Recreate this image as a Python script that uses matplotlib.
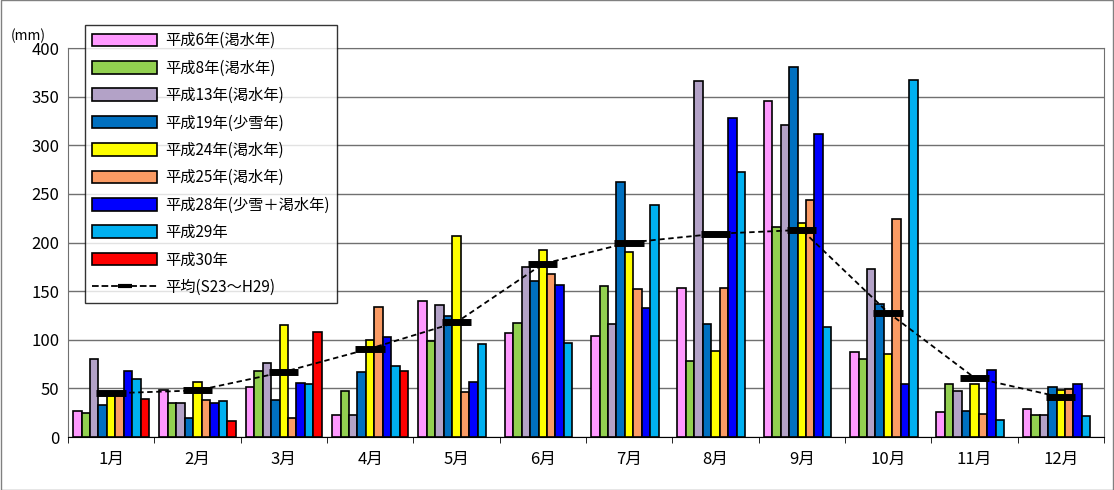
import numpy as np
import matplotlib.pyplot as plt
from matplotlib.lines import Line2D

plt.rcParams['font.family'] = ['Noto Sans CJK JP', 'DejaVu Sans']

months = [f"{m}月" for m in range(1, 13)]
nan = np.nan
h06 = [27, 48, 52, 23, 140, 107, 104, 153, 346, 87, 26, 29]
h08 = [25, 35, 68, 47, 99, 117, 155, 78, 216, 80, 55, 23]
h13 = [80, 35, 76, 23, 136, 175, 116, 366, 321, 173, 47, 23]
h19 = [33, 20, 38, 67, 124, 160, 262, 116, 380, 137, 27, 52]
h24 = [45, 57, 115, 100, 207, 192, 190, 88, 220, 85, 55, 48]
h25 = [45, 38, 20, 134, 46, 168, 152, 153, 244, 224, 24, 49]
h28 = [68, 35, 56, 103, 57, 156, 133, 328, 312, 55, 69, 55]
h29 = [60, 37, 55, 73, 96, 97, 239, 273, 113, 367, 18, 22]
h30 = [39, 17, 108, 68, nan, nan, nan, nan, nan, nan, nan, nan]
avg = [45, 48, 67, 91, 118, 178, 200, 209, 213, 128, 61, 41]

series = [
    ("平成6年(渇水年)", h06, "#ff99ff"),
    ("平成8年(渇水年)", h08, "#92d050"),
    ("平成13年(渇水年)", h13, "#b3a2c7"),
    ("平成19年(少雪年)", h19, "#0070c0"),
    ("平成24年(渇水年)", h24, "#ffff00"),
    ("平成25年(渇水年)", h25, "#fa9b64"),
    ("平成28年(少雪＋渇水年)", h28, "#0000ff"),
    ("平成29年", h29, "#00b0f0"),
    ("平成30年", h30, "#ff0000"),
]

fig = plt.figure(figsize=(11.14, 4.90), dpi=100)
ax = fig.add_axes([0.061, 0.108, 0.930, 0.794])
x = np.arange(12)
w = 0.098
for i, (lab, vals, col) in enumerate(series):
    ax.bar(x + (i - 4) * w, vals, width=w, color=col, edgecolor="black",
           linewidth=1.2, label=lab, zorder=3)

ax.plot(x, avg, color="black", linestyle=(0, (3, 2)), linewidth=1.3, zorder=4)
ax.errorbar(x, avg, xerr=0.17, fmt="none", ecolor="black", elinewidth=5,
            capsize=0, zorder=5)

ax.set_xlim(-0.5, 11.5)
ax.set_ylim(0, 400)
ax.set_yticks(range(0, 401, 50))
ax.set_xticks(x)
ax.set_xticklabels(months)
ax.set_xticks(np.arange(-0.5, 12, 1), minor=True)
ax.tick_params(axis="x", which="major", length=0, pad=10)
ax.tick_params(axis="x", which="minor", length=4)
ax.tick_params(axis="y", length=0, pad=6)
ax.tick_params(labelsize=12)
ax.yaxis.grid(True, color="#707070", linewidth=1, zorder=0)
for s in ax.spines.values():
    s.set_color("#707070")
ax.spines["bottom"].set_color("black")
ax.text(-0.055, 1.02, "(mm)", transform=ax.transAxes, fontsize=10, ha="left")

handles, labels = ax.get_legend_handles_labels()
handles.append(Line2D([], [], color="black", linestyle="--", linewidth=1.3,
                      marker="_", markersize=10, markeredgewidth=3))
labels.append("平均(S23～H29)")
leg = ax.legend(handles, labels, loc="upper left", bbox_to_anchor=(0.009, 1.078),
                fontsize=11, frameon=True, fancybox=False, edgecolor="black",
                handlelength=4.3, handleheight=0.9, labelspacing=0.68,
                borderpad=0.45, handletextpad=0.5)
leg.get_frame().set_linewidth(1)
leg.set_zorder(10)

fig.patches.append(plt.Rectangle((0.001, 0.001), 0.998, 0.998, fill=False,
                                 edgecolor="#808080", linewidth=1,
                                 transform=fig.transFigure))
fig.savefig("out.png", dpi=100)
